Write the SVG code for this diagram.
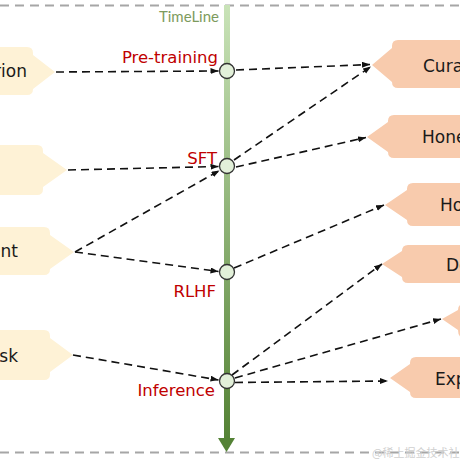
<svg xmlns="http://www.w3.org/2000/svg" width="460" height="460" viewBox="0 0 460 460">
<style>
.bnd{stroke:#a6a6a6;stroke-width:2;stroke-dasharray:9 6;fill:none}
.lbox{fill:#fef2d6}
.rbox{fill:#f8cbad}
.btxt{font-family:"DejaVu Sans",sans-serif;font-size:17px;fill:#1a1a1a}
.stage{font-family:"DejaVu Sans",sans-serif;font-size:16.5px;fill:#c00000;text-anchor:end}
.conn path{stroke:#111;stroke-width:1.6;stroke-dasharray:8 5;fill:none;marker-end:url(#ah)}
.dot{fill:#e2f0d9;stroke:#333;stroke-width:1.3}
</style>
<defs>
<linearGradient id="tl" x1="0" y1="0" x2="0" y2="1">
<stop offset="0" stop-color="#c9e3b8"/>
<stop offset="1" stop-color="#548235"/>
</linearGradient>
<marker id="ah" markerUnits="userSpaceOnUse" markerWidth="9" markerHeight="7" refX="8" refY="3" orient="auto">
<path d="M0,0 L8,3 L0,6 z" fill="#111"/>
</marker>
</defs>
<rect width="460" height="460" fill="#ffffff"/>
<line class="bnd" x1="0" y1="5.5" x2="460" y2="5.5"/>
<line class="bnd" x1="0" y1="452.5" x2="460" y2="452.5"/>
<text x="372" y="457" font-family="Noto Sans CJK SC,sans-serif" font-size="11" fill="#d0d0d0">@稀土掘金技术社区</text>

<g id="timeline">
<rect x="224" y="5" width="6" height="434" fill="url(#tl)"/>
<path d="M218,438 L235,438 L226.5,452 z" fill="#548235"/>
<text x="219" y="22" font-family="Lato,sans-serif" font-size="15" fill="#7d9b5d" text-anchor="end">TimeLine</text>
</g>

<g id="left1"><path class="lbox" d="M-10,47 H27 Q33,47 33,53 V55 L55,72 L33,89 V89 Q33,95 27,95 H-10 Z"/><text class="btxt" x="27" y="77" text-anchor="end">rion</text></g>
<g id="left2"><path class="lbox" d="M-10,145 H37 Q43,145 43,151 V153 L67,170 L43,187 V189 Q43,195 37,195 H-10 Z"/></g>
<g id="left3"><path class="lbox" d="M-10,227 H44 Q50,227 50,233 V235 L74,252 L50,269 V269 Q50,275 44,275 H-10 Z"/><text class="btxt" x="18" y="257" text-anchor="end">ent</text></g>
<g id="left4"><path class="lbox" d="M-10,330 H44 Q50,330 50,336 V338 L73,355 L50,372 V374 Q50,380 44,380 H-10 Z"/><text class="btxt" x="18" y="362" text-anchor="end">sk</text></g>

<g id="right1"><path class="rbox" d="M470,40 H398 Q392,40 392,46 V48 L372,65 L392,82 Q392,88 398,88 H470 Z"/><text class="btxt" x="423" y="72">Cura</text></g>
<g id="right2"><path class="rbox" d="M470,115 H394 Q388,115 388,121 V122 L367,137 L388,152 Q388,158 394,158 H470 Z"/><text class="btxt" x="422" y="143">Hone</text></g>
<g id="right3"><path class="rbox" d="M470,183 H413 Q407,183 407,189 V190 L385,205 L407,220 Q407,226 413,226 H470 Z"/><text class="btxt" x="440" y="211">Ho</text></g>
<g id="right4"><path class="rbox" d="M470,245 H408 Q402,245 402,251 L382,264 L402,277 Q402,283 408,283 H470 Z"/><text class="btxt" x="446" y="271">De</text></g>
<g id="right5"><path class="rbox" d="M470,304 H464 Q458,304 458,310 L442,319 L458,330 Q458,338 464,338 H470 Z"/></g>
<g id="right6"><path class="rbox" d="M470,357 H416 Q410,357 410,363 V364 L390,378 L410,392 Q410,398 416,398 H470 Z"/><text class="btxt" x="435" y="385">Exp</text></g>

<g id="connectors" class="conn">
<path d="M56,72 L218.5,71"/>
<path d="M68,170 L218.5,166.5"/>
<path d="M75,252 L219.5,170.5"/>
<path d="M75,252 L218.5,271.5"/>
<path d="M73,355 L218.5,380"/>
<path d="M236,70 L370,64.5"/>
<path d="M234,160 L371,66.5"/>
<path d="M236,167 L366,137.5"/>
<path d="M234,268 L384,205"/>
<path d="M232,375 L382,264"/>
<path d="M235,378 L441,319"/>
<path d="M235,382.5 L388,381"/>
</g>

<g id="dot-pretraining"><circle class="dot" cx="227" cy="71" r="7.5"/><text class="stage" x="218" y="63">Pre-training</text></g>
<g id="dot-sft"><circle class="dot" cx="227" cy="166" r="7.5"/><text class="stage" x="217" y="164">SFT</text></g>
<g id="dot-rlhf"><circle class="dot" cx="227" cy="272" r="7.5"/><text class="stage" x="216" y="297">RLHF</text></g>
<g id="dot-inference"><circle class="dot" cx="227" cy="381" r="7.5"/><text class="stage" x="215" y="396">Inference</text></g>
</svg>
